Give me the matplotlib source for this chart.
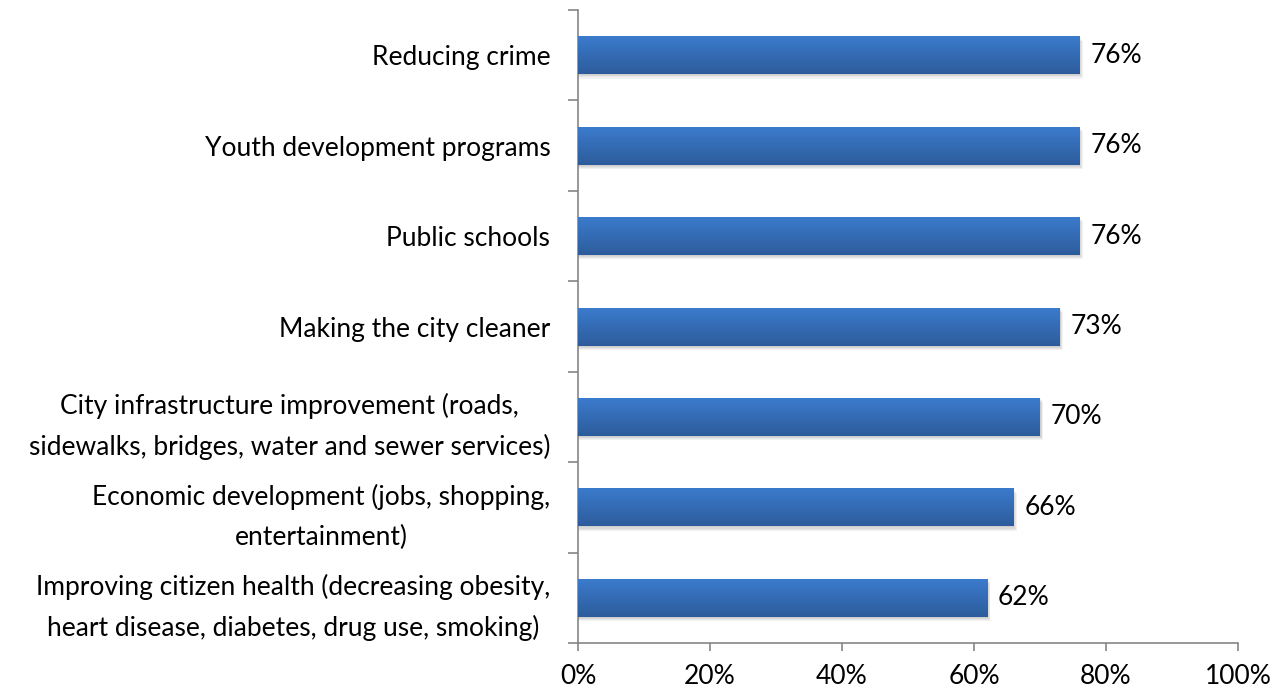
import numpy as np
import matplotlib
matplotlib.use('Agg')
import matplotlib.pyplot as plt
from matplotlib.colors import LinearSegmentedColormap

# data (bottom to top)
categories = [
    'Improving citizen health (decreasing obesity,\nheart disease, diabetes, drug use, smoking)',
    'Economic development (jobs, shopping,\nentertainment)',
    'City infrastructure improvement (roads,\nsidewalks, bridges, water and sewer services)',
    'Making the city cleaner',
    'Public schools',
    'Youth development programs',
    'Reducing crime',
]
values = [62, 66, 70, 73, 76, 76, 76]
xticks = [0, 20, 40, 60, 80, 100]

plt.rcParams['font.family'] = ['Lato', 'DejaVu Sans']
fs = 19

fig = plt.figure(figsize=(12.8, 6.92), dpi=100)
ax = fig.add_axes([0.4516, 0.0708, 0.5156, 0.9147])

y = np.arange(len(categories))
h = 0.42
cmap = LinearSegmentedColormap.from_list('bar', ['#2d5c9c', '#3b7bcc'])
grad = np.linspace(0, 1, 64).reshape(-1, 1)

for yi, v in zip(y, values):
    # soft shadow
    for k in range(1, 5):
        ax.barh(yi - 0.012 * k, v + 0.12 * k, height=h, color='black',
                alpha=0.05, linewidth=0, zorder=1)
    bar = ax.barh(yi, v, height=h, color='#3569b3', linewidth=0, zorder=2)[0]
    im = ax.imshow(grad, cmap=cmap, aspect='auto', origin='lower',
                   extent=[0, v, yi - h / 2, yi + h / 2], zorder=3)
    im.set_clip_path(bar)
    ax.text(v + 1.6, yi, '%d%%' % v, va='center', ha='left', fontsize=fs, color='black')

ax.set_xlim(0, 100)
ax.set_ylim(-0.5, len(categories) - 0.5)
ax.set_xticks(xticks)
ax.set_xticklabels(['%d%%' % t for t in xticks], fontsize=fs)
ax.set_yticks(y)
ax.set_yticklabels(categories, fontsize=fs, ha='right', multialignment='center',
                   linespacing=1.7)
ax.set_yticks(np.arange(-0.5, len(categories), 1), minor=True)
ax.tick_params(axis='y', which='major', length=0, pad=20)
ax.tick_params(axis='y', which='minor', length=7, color='#868686', width=1.2)
ax.tick_params(axis='x', length=6, color='#868686', width=1.2, pad=9)

for s in ['top', 'right']:
    ax.spines[s].set_visible(False)
for s in ['left', 'bottom']:
    ax.spines[s].set_color('#868686')
    ax.spines[s].set_linewidth(1.2)

fig.savefig('out.png', dpi=100)
